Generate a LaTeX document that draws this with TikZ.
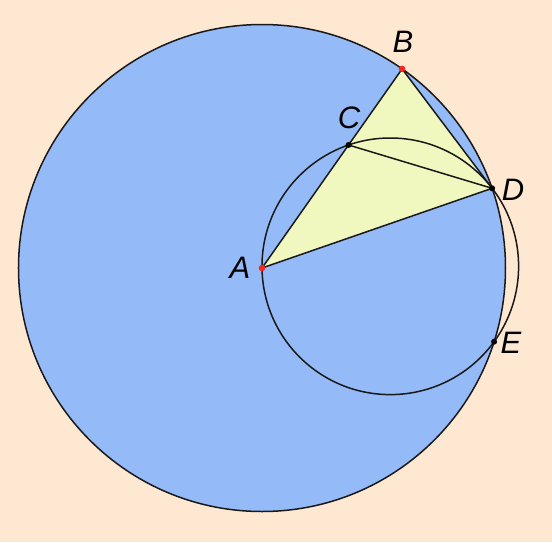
\documentclass[tikz,border=0pt]{standalone}
\usepackage{fontspec}
\setmainfont{Liberation Sans}
\definecolor{bgpeach}{RGB}{255,232,210}
\definecolor{diskblue}{RGB}{148,186,248}
\definecolor{triyellow}{RGB}{240,248,192}
\definecolor{linegray}{RGB}{25,25,25}
\definecolor{ptred}{RGB}{240,40,30}
\tikzset{
  edge/.style={draw=linegray, line width=1.5pt},
  lbl/.style={font=\itshape\fontsize{31}{35}\selectfont, inner sep=0pt},
  redpt/.style={fill=ptred},
  blackpt/.style={fill=black}
}
\begin{document}
\begin{tikzpicture}[x=1pt,y=1pt]
  \fill[bgpeach] (-262,-274) rectangle (290,268);
  \useasboundingbox (-262,-274) rectangle (290,268);
  \coordinate (A) at (0,0);
  \coordinate (B) at (140.1,199.1);
  \coordinate (C) at (86.5,123.0);
  \coordinate (D) at (230.1,79.7);
  \coordinate (E) at (232.1,-73.7);
  \coordinate (O) at (128.3,1.7);
  % big disk
  \filldraw[fill=diskblue, edge] (A) circle[radius=243.5];
  % triangle
  \filldraw[fill=triyellow, edge, line join=round] (A) -- (B) -- (D) -- cycle;
  \draw[edge] (C) -- (D);
  % small circle
  \draw[edge] (O) circle[radius=128.3];
  % points
  \fill[redpt] (A) circle[radius=3.3];
  \fill[redpt] (B) circle[radius=3.3];
  \fill[blackpt] (C) circle[radius=3];
  \fill[blackpt] (D) circle[radius=3];
  \fill[blackpt] (E) circle[radius=3];
  % labels
  \node[lbl] (lA) at (-22,0) {A};
  \node[lbl] (lB) at (141,226) {B};
  \node[lbl] (lC) at (87,150) {C};
  \node[lbl] (lD) at (251,78) {D};
  \node[lbl] (lE) at (249,-75) {E};
\end{tikzpicture}
\end{document}
